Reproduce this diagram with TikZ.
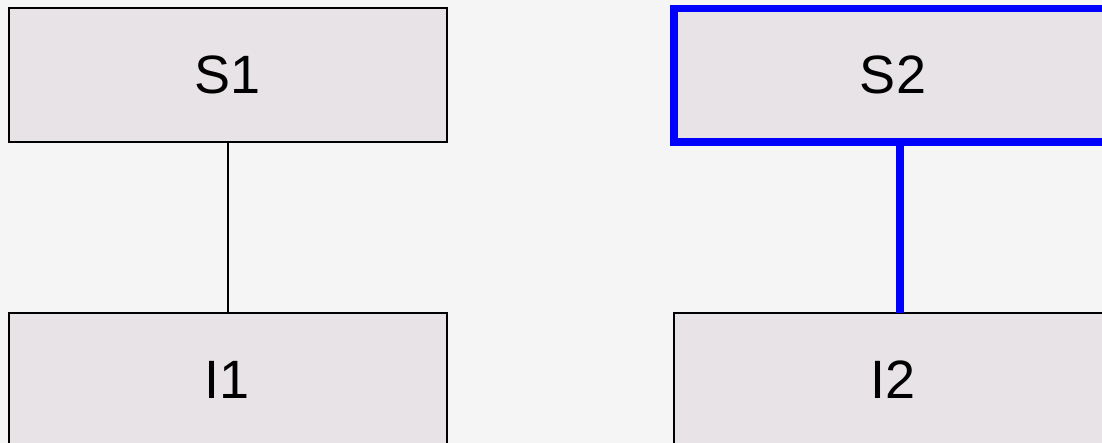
\documentclass[tikz,border=0pt]{standalone}
\usepackage{fontspec}
\setmainfont{Liberation Sans}
\usetikzlibrary{positioning}
\definecolor{pagebg}{HTML}{F5F5F5}
\definecolor{boxfill}{HTML}{E8E3E6}
\definecolor{selblue}{HTML}{0000FF}

\begin{document}
\begin{tikzpicture}[
    x=1pt, y=1pt,
    every node/.style={font=\fontsize{54}{64}\selectfont},
    block/.style={
      rectangle, draw=black, fill=boxfill, line width=2pt,
      minimum width=438pt, minimum height=133.5pt, outer sep=0pt,
      inner sep=0pt
    },
    selected/.style={draw=selblue, line width=7.5pt},
    link/.style={draw=black, line width=2pt},
    sellink/.style={draw=selblue, line width=7.5pt},
  ]

  \fill[pagebg] (0,0) rectangle (1102,443);
  \useasboundingbox (0,0) rectangle (1102,443);

  \begin{scope}
    \clip (0,0) rectangle (1102,443);

    \node[block] (s1) at (227.5, 367.75) {S1};
    \node[block, below=171pt of s1] (i1) {I1};

    \node[block, selected, right=227.5pt of s1] (s2) {S2};
    \node[block, right=227.5pt of i1] (i2) {I2};

    \draw[link] (s1) -- (i1);
    \draw[sellink] ([xshift=7pt]s2.south) -- ([xshift=7pt]i2.north);
  \end{scope}

\end{tikzpicture}
\end{document}
